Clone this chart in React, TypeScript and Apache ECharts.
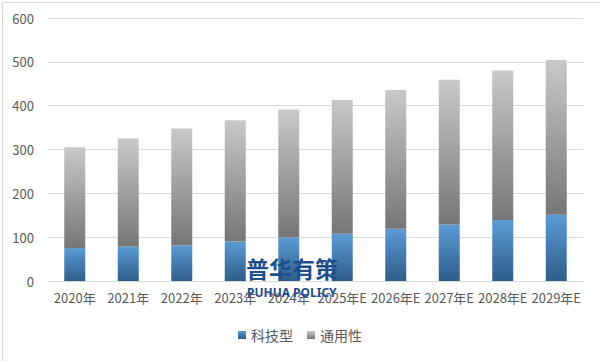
import React, { useEffect, useRef } from "react";
import * as echarts from "echarts";

const categories = ["2020年", "2021年", "2022年", "2023年", "2024年", "2025年E", "2026年E", "2027年E", "2028年E", "2029年E"];
const techValues = [75, 78, 81, 90, 99, 108, 119, 129, 139, 151];
const generalValues = [230, 247, 267, 277, 292, 305, 317, 330, 341, 353];
const yTicks = { min: 0, max: 600, interval: 100 };

export default function App() {
  const ref = useRef<HTMLDivElement>(null);
  useEffect(() => {
    if (!ref.current) return;
    const chart = echarts.init(ref.current, undefined, { renderer: "svg" });
    const font = "'Noto Sans CJK SC', sans-serif";
    chart.setOption({
      animation: false,
      backgroundColor: "#ffffff",
      textStyle: { fontFamily: font },
      grid: { left: 48, right: 17, top: 18, bottom: 80, containLabel: false },
      legend: {
        bottom: 14,
        left: "center",
        itemWidth: 8,
        itemHeight: 8,
        itemGap: 14,
        icon: "rect",
        textStyle: { color: "#595959", fontSize: 14, fontFamily: font },
        data: ["科技型", "通用性"],
      },
      xAxis: {
        type: "category",
        data: categories,
        axisLine: { lineStyle: { color: "#d9d9d9" } },
        axisTick: { show: false },
        axisLabel: { color: "#595959", fontSize: 13, margin: 10, interval: 0, fontFamily: font },
      },
      yAxis: {
        type: "value",
        min: yTicks.min,
        max: yTicks.max,
        interval: yTicks.interval,
        axisLine: { show: false },
        axisTick: { show: false },
        splitLine: { lineStyle: { color: "#d9d9d9" } },
        axisLabel: { color: "#595959", fontSize: 13, margin: 14, fontFamily: font },
      },
      series: [
        {
          name: "科技型",
          type: "bar",
          stack: "total",
          barWidth: 21,
          data: techValues,
          itemStyle: {
            color: new echarts.graphic.LinearGradient(0, 0, 0, 1, [
              { offset: 0, color: "#5b9bd5" },
              { offset: 1, color: "#2e5d8a" },
            ]),
          },
        },
        {
          name: "通用性",
          type: "bar",
          stack: "total",
          barWidth: 21,
          data: generalValues,
          itemStyle: {
            color: new echarts.graphic.LinearGradient(0, 0, 0, 1, [
              { offset: 0, color: "#c9c9c9" },
              { offset: 1, color: "#767676" },
            ]),
          },
        },
      ],
      graphic: [
        {
          type: "rect",
          left: 0,
          top: 0,
          shape: { x: 0.5, y: 0.5, width: 599, height: 360 },
          style: { fill: "none", stroke: "#d9d9d9", lineWidth: 1 },
          silent: true,
        },
        {
          type: "text",
          left: 246,
          top: 256,
          style: { text: "普华有策", fill: "#1f4e8c", font: "bold 23px 'Noto Sans CJK SC', sans-serif" },
          z: 100,
        },
        {
          type: "text",
          left: 247,
          top: 286,
          style: { text: "PUHUA POLICY", fill: "#1f4e8c", font: "bold 12px 'Noto Sans', sans-serif" },
          z: 100,
        },
      ],
    });
    return () => chart.dispose();
  }, []);
  return <div ref={ref} style={{ position: "absolute", left: 0, top: 0, width: 600, height: 361 }} />;
}
